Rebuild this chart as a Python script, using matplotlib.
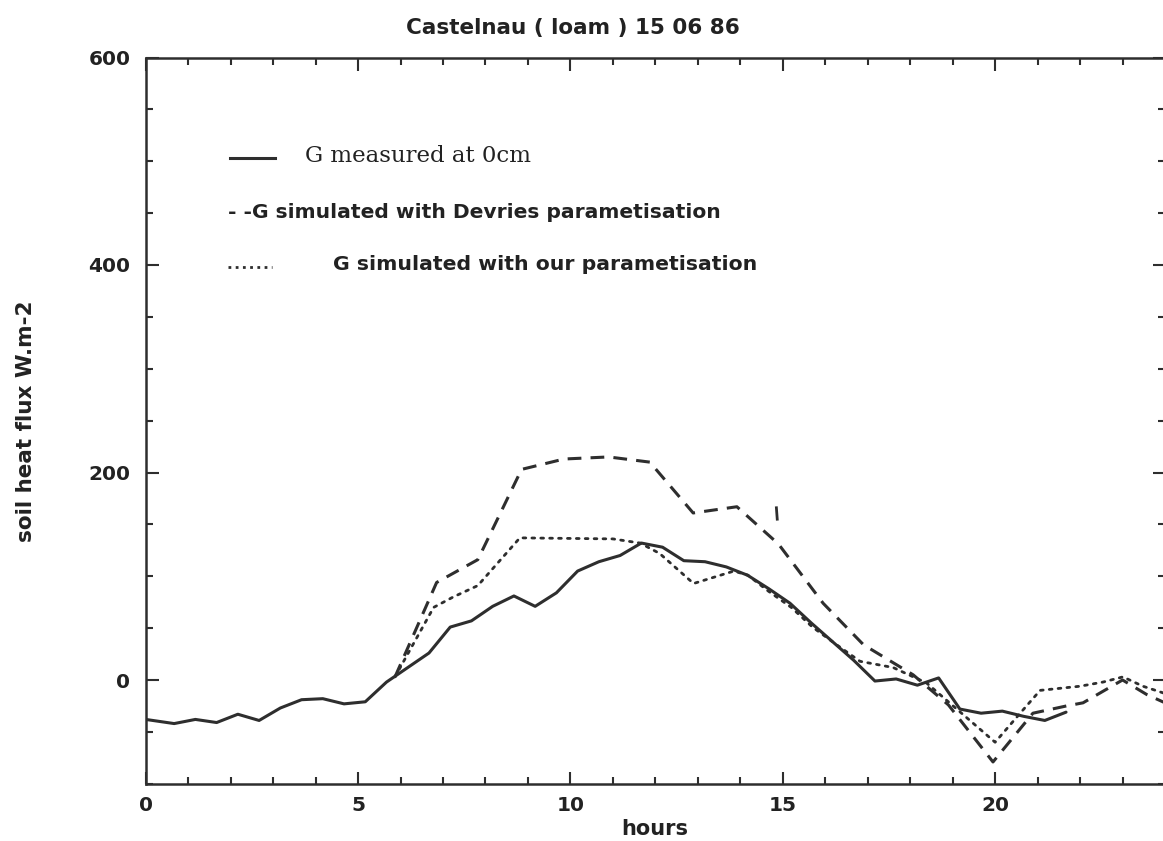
import matplotlib
matplotlib.use("Agg")
import matplotlib.pyplot as plt
from matplotlib.ticker import MultipleLocator

# ---- data ----
hours_measured = [0.0, 0.67, 1.17, 1.67, 2.17, 2.67, 3.17, 3.67, 4.17, 4.67, 5.17,
                  5.67, 6.17, 6.67, 7.17, 7.67, 8.17, 8.67, 9.17, 9.67, 10.17,
                  10.67, 11.17, 11.67, 12.17, 12.67, 13.17, 13.67, 14.17, 14.67,
                  15.17, 15.67, 16.17, 16.67, 17.17, 17.67, 18.17, 18.67, 19.17,
                  19.67, 20.17, 20.67, 21.17, 21.67]
g_measured = [-38, -42, -38, -41, -33, -39, -27, -19, -18, -23, -21,
              -2, 12, 26, 51, 57, 71, 81, 71, 84, 105,
              114, 120, 132, 128, 115, 114, 109, 101, 88,
              74, 55, 37, 19, -1, 1, -5, 2, -28,
              -32, -30, -35, -39, -31]

hours_devries = [5.87, 6.85, 7.82, 8.85, 9.85, 10.9, 11.87, 12.89, 13.92, 14.9,
                 15.95, 16.9, 18.07, 18.9, 19.95, 20.89, 21.68, 22.07, 23.0,
                 23.57, 24.0]
g_devries = [3, 94, 116, 203, 213, 215, 210, 161, 167, 131,
             74, 34, 5, -24, -79, -32, -25, -22, 0,
             -14, -22]
hours_devries_stray = [14.85, 14.87]
g_devries_stray = [166, 155]

hours_ours = [5.87, 6.78, 7.24, 7.82, 8.81, 11.0, 11.64, 12.1, 12.9, 13.85,
              14.18, 14.65, 15.2, 15.7, 16.3, 16.82, 17.6, 18.39, 20.0,
              20.59, 21.06, 22.0, 22.54, 23.01, 23.48, 24.0]
g_ours = [3, 70, 80, 91, 137, 136, 132, 122, 93, 105,
          101, 86, 70, 51, 33, 18, 12, -3, -60,
          -32, -10, -6, -2, 3, -6, -13]

x_major = [0, 5, 10, 15, 20]
y_major = [0, 200, 400, 600]

title = "Castelnau ( loam ) 15 06 86"
xlabel = "hours"
ylabel = "soil heat flux W.m-2"
legend_measured = "G measured at 0cm"
legend_devries = "- -G simulated with Devries parametisation"
legend_ours = "G simulated with our parametisation"

# ---- figure ----
W, H = 1163, 841
fig = plt.figure(figsize=(W / 100, H / 100), dpi=100)
ax_l, ax_r, ax_t, ax_b = 145.7, 1165.0, 57.5, 783.75
ax = fig.add_axes([ax_l / W, 1 - ax_b / H, (ax_r - ax_l) / W, (ax_b - ax_t) / H])
ax.set_xlim(0, 24)
ax.set_ylim(-100, 600)

ink = "#2e2e2e"
txt = "#222222"
ax.plot(hours_measured, g_measured, color=ink, lw=2.2, solid_joinstyle="round",
        solid_capstyle="round")
ax.plot(hours_devries, g_devries, color=ink, lw=2.2, linestyle=(0, (4.5, 3.0)))
ax.plot(hours_devries_stray, g_devries_stray, color=ink, lw=2.0)
ax.plot(hours_ours, g_ours, color=ink, lw=2.0, linestyle=(0, (1.0, 2.2)),
        dash_capstyle="round")

# axes styling
for s in ax.spines.values():
    s.set_linewidth(1.8)
    s.set_color(ink)
ax.xaxis.set_major_locator(plt.FixedLocator(x_major))
ax.xaxis.set_minor_locator(MultipleLocator(1))
ax.yaxis.set_major_locator(plt.FixedLocator(y_major))
ax.yaxis.set_minor_locator(MultipleLocator(50))
ax.tick_params(which="both", direction="in", top=True, right=True, colors=ink,
               width=1.5, labelsize=14.5)
ax.tick_params(which="major", length=9)
ax.tick_params(which="minor", length=5)
ax.tick_params(axis="y", pad=11)
ax.tick_params(axis="x", pad=9)
ax.set_xticklabels([str(v) for v in x_major], color=txt, fontweight="bold")
ax.set_yticklabels([str(v) for v in y_major], color=txt, fontweight="bold")

# legend (hand placed, as in original)
ax.plot([0.0827, 0.127], [0.8616, 0.8616], transform=ax.transAxes, color=ink, lw=2.2)
ax.text(0.1563, 0.8650, legend_measured, transform=ax.transAxes, va="center",
        ha="left", fontsize=16.5, family="DejaVu Serif", color=txt)
ax.text(0.0807, 0.786, legend_devries, transform=ax.transAxes, va="center",
        ha="left", fontsize=14.6, fontweight="bold", color=txt)
ax.plot([0.0807, 0.124], [0.7115, 0.7115], transform=ax.transAxes, color=ink,
        lw=2.0, linestyle=(0, (1.0, 1.6)))
ax.text(0.1838, 0.7143, legend_ours, transform=ax.transAxes, va="center",
        ha="left", fontsize=14.7, fontweight="bold", color=txt)

fig.text(573 / W, 1 - 28 / H, title, ha="center", va="center", fontsize=15.5,
         fontweight="bold", color=txt)
fig.text(655 / W, 1 - 829 / H, xlabel, ha="center", va="center", fontsize=15,
         fontweight="bold", color=txt)
fig.text(26 / W, 1 - 421 / H, ylabel, ha="center", va="center", fontsize=15.5,
         fontweight="bold", rotation=90, color=txt)

fig.savefig("out.png", dpi=100)
